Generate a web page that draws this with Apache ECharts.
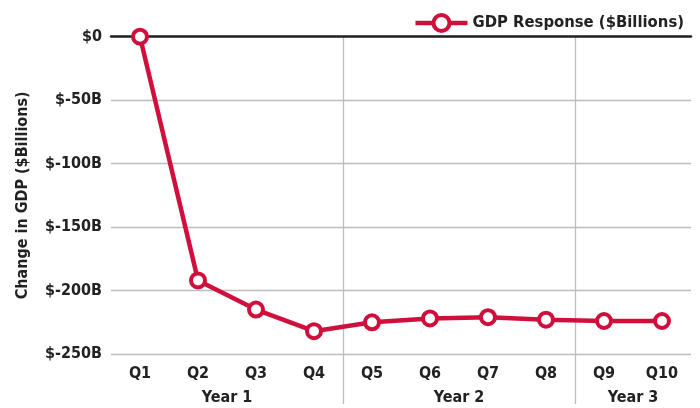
<!DOCTYPE html>
<html>
<head>
<meta charset="utf-8">
<style>html,body{margin:0;padding:0;background:#fff}#c{width:700px;height:408px}</style>
<script src="https://cdn.jsdelivr.net/npm/echarts@6/dist/echarts.min.js"></script>
</head>
<body>
<div id="c"></div>
<script>
const quarters = ['Q1','Q2','Q3','Q4','Q5','Q6','Q7','Q8','Q9','Q10'];
const gdpResponse = [0, -192, -215, -232, -225, -222, -221, -223, -224, -224];
const years = ['Year 1','Year 2','Year 3'];
const quartersPerYear = [4, 4, 2];
const yTicks = [-250, -200, -150, -100, -50, 0];
const seriesName = 'GDP Response ($Billions)';
const yAxisName = 'Change in GDP ($Billions)';

const FONT = "'Liberation Sans Narrow', 'DejaVu Sans Condensed', sans-serif";
const RED = '#D0103C';
const GRAY = '#bdbdbd';
const INK = '#222';

// year boundaries and centers (in quarter units)
const yearBounds = [];
const yearCenters = [];
let acc = 0;
quartersPerYear.forEach((n, i) => {
  yearCenters.push(acc + n / 2);
  acc += n;
  if (i < quartersPerYear.length - 1) yearBounds.push(acc);
});
const total = acc;

const chart = echarts.init(document.getElementById('c'), null, {renderer: 'canvas'});
chart.setOption({
  animation: false,
  textStyle: {fontFamily: FONT},
  grid: {left: 111, right: 9, top: 36.7, bottom: 54},
  legend: {
    top: 8, right: 11,
    itemWidth: 52, itemHeight: 20, itemGap: 6,
    lineStyle: {width: 4.5, color: RED},
    itemStyle: {color: '#fff', borderColor: RED, borderWidth: 4},
    textStyle: {fontFamily: FONT, fontSize: 16.5, fontWeight: 'bold', color: INK},
    data: [seriesName]
  },
  xAxis: [
    {
      type: 'category', data: quarters, position: 'bottom',
      boundaryGap: true,
      axisLine: {show: false}, axisTick: {show: false}, splitLine: {show: false},
      axisLabel: {fontFamily: FONT, fontSize: 16, fontWeight: 'bold', color: INK, margin: 12}
    },
    {
      type: 'value', min: 0, max: total, position: 'bottom',
      axisLine: {show: false},
      axisTick: {show: true, customValues: yearBounds, length: 50, lineStyle: {color: GRAY, width: 1.3}},
      splitLine: {show: true, lineStyle: {color: GRAY, width: 1.3}},
      axisLabel: {
        customValues: yearCenters, margin: 36,
        fontFamily: FONT, fontSize: 16, fontWeight: 'bold', color: INK,
        formatter: v => { const i = yearCenters.indexOf(v); return i >= 0 ? years[i] : ''; }
      }
    },
    {
      type: 'value', min: 0, max: total, position: 'top',
      axisLine: {show: true, lineStyle: {color: INK, width: 2.5}},
      axisTick: {show: false}, axisLabel: {show: false}, splitLine: {show: false}
    }
  ],
  yAxis: {
    type: 'value', min: yTicks[0], max: yTicks[yTicks.length - 1], interval: 50,
    axisLine: {show: false}, axisTick: {show: false},
    splitLine: {show: true, lineStyle: {color: GRAY, width: 1.3}},
    axisLabel: {
      fontFamily: FONT, fontSize: 16, fontWeight: 'bold', color: INK, margin: 9,
      formatter: v => v === 0 ? '$0' : '$' + v + 'B'
    },
    name: yAxisName, nameLocation: 'middle', nameGap: 80,
    nameTextStyle: {fontFamily: FONT, fontSize: 16, fontWeight: 'bold', color: INK}
  },
  series: [{
    name: seriesName, type: 'line', xAxisIndex: 0,
    data: gdpResponse,
    symbol: 'circle', symbolSize: 14,
    lineStyle: {color: RED, width: 4.5},
    itemStyle: {color: '#fff', borderColor: RED, borderWidth: 4},
    emphasis: {disabled: true}
  }]
});
</script>
</body>
</html>
